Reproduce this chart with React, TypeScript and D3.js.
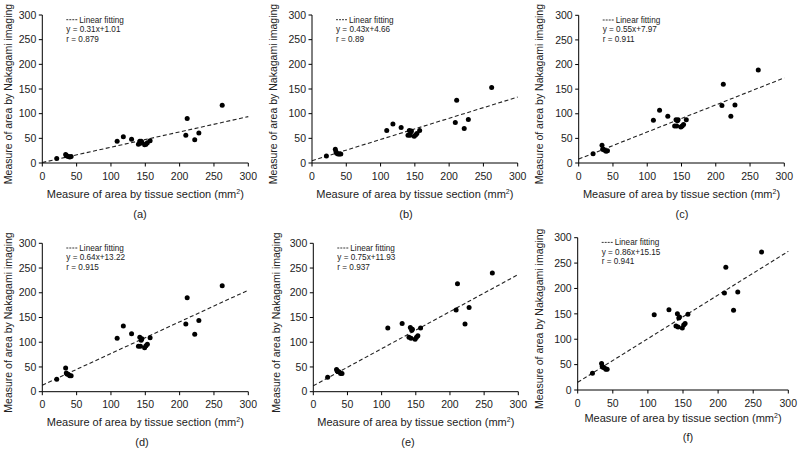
import React from "react";
import * as d3 from "d3";

// Measure of area by tissue section (mm²), shared by all panels
const tissueX = [21, 34, 35, 36, 38, 40, 42, 109, 118, 130, 140, 142, 143, 144, 145, 149, 151, 153, 157, 209, 211, 222, 228, 262];

// Measure of area by Nakagami imaging for each panel (null = not visible)
const yA = [9, 17, 15, 14, 13, 12, 13, 44, 53, 48, 38, 44, 40, 44, 42, 37, 38, 41, 45, 56, 90, 47, 61, 117];
const yB = [14, 28, 23, 20, 18, 18, 18, 66, 79, 72, 56, 66, 56, 63, 65, 54, 57, 60, 66, 82, 127, 70, 88, 153];
const yC = [19, 36, 28, 28, 26, 24, 25, 87, 107, 95, 75, 88, 75, 86, 88, 73, 75, 78, 88, 117, 160, 95, 118, 189];
const yD = [25, 48, 38, 36, 35, 32, 32, 108, 133, 117, 92, 110, 92, 104, 107, 89, 93, 96, 109, 137, 190, 116, 144, 214];
const yE = [29, 45, 42, 41, 40, 37, 37, 129, null, 138, 110, 130, 108, 124, 126, 106, 110, 113, 129, 165, 218, 137, 170, 240];
const yF = [33, 52, 47, 45, 44, 41, 41, 148, null, 158, 126, 150, 124, 142, 144, 122, 128, 131, 149, 191, 242, 157, 193, 272];

const panelLabels = ["(a)", "(b)", "(c)", "(d)", "(e)", "(f)"];
const slopes = [0.31, 0.43, 0.55, 0.64, 0.75, 0.86];
const intercepts = [1.01, 4.66, 7.97, 13.22, 11.93, 15.15];
const equations = ["y = 0.31x+1.01", "y = 0.43x+4.66", "y = 0.55x+7.97", "y = 0.64x+13.22", "y = 0.75x+11.93", "y = 0.86x+15.15"];
const rValues = ["r = 0.879", "r = 0.89", "r = 0.911", "r = 0.915", "r = 0.937", "r = 0.941"];
const ticks = [0, 50, 100, 150, 200, 250, 300];

const seriesY = [yA, yB, yC, yD, yE, yF];

// layout (pixel positions of each panel's plot area)
const layout = [
  { x0: 42.3, x1: 248.3, y0: 163, y1: 15, yTitleX: 11.5, labelX: 140, titleDy: 34.5, labelDy: 55 },
  { x0: 312, x1: 517.7, y0: 163, y1: 15, yTitleX: 276.5, labelX: 406, titleDy: 34.5, labelDy: 55 },
  { x0: 578.7, x1: 784.3, y0: 163, y1: 15.3, yTitleX: 542.5, labelX: 682, titleDy: 34.5, labelDy: 55 },
  { x0: 42.3, x1: 248.3, y0: 391.7, y1: 243.3, yTitleX: 11.5, labelX: 142, titleDy: 34, labelDy: 54 },
  { x0: 313.3, x1: 518.3, y0: 391.7, y1: 243.3, yTitleX: 279.5, labelX: 408, titleDy: 34, labelDy: 54 },
  { x0: 577.7, x1: 788.3, y0: 390, y1: 237.7, yTitleX: 542.5, labelX: 688, titleDy: 32, labelDy: 51 },
];

const FONT = "'Liberation Sans', Arial, sans-serif";

function Panel({ i }: { i: number }) {
  const L = layout[i];
  const x = d3.scaleLinear().domain([0, 300]).range([L.x0, L.x1]);
  const y = d3.scaleLinear().domain([0, 300]).range([L.y0, L.y1]);
  const ys = seriesY[i];
  const fit = d3.line<number>().x((v) => x(v)).y((v) => y(slopes[i] * v + intercepts[i]));
  const yMid = (L.y0 + L.y1) / 2;
  const xMid = (L.x0 + L.x1) / 2;
  const lx = L.x0 + 24;
  const ly = L.y1 + 7.5;
  return (
    <g fontFamily={FONT} fill="#000">
      {/* fit line */}
      <path d={fit([0, 300]) || ""} fill="none" stroke="#222" strokeWidth={1.1} strokeDasharray="4,2.5" />
      {/* axes */}
      <line x1={L.x0} x2={L.x1} y1={L.y0} y2={L.y0} stroke="#000" strokeWidth={1} />
      <line x1={L.x0} x2={L.x0} y1={L.y0} y2={L.y1} stroke="#000" strokeWidth={1} />
      {ticks.map((t) => (
        <g key={"x" + t}>
          <line x1={x(t)} x2={x(t)} y1={L.y0} y2={L.y0 + 3.5} stroke="#000" />
          <text x={x(t)} y={L.y0 + 16.5} textAnchor="middle" fontSize={10.5} fill="#222">{t}</text>
        </g>
      ))}
      {ticks.map((t) => (
        <g key={"y" + t}>
          <line x1={L.x0 - 3.5} x2={L.x0} y1={y(t)} y2={y(t)} stroke="#000" />
          <text x={L.x0 - 6} y={y(t) + 3.7} textAnchor="end" fontSize={10.5} fill="#222">{t}</text>
        </g>
      ))}
      {/* points */}
      {tissueX.map((xv, k) =>
        ys[k] == null ? null : <circle key={k} cx={x(xv)} cy={y(ys[k] as number)} r={2.5} fill="#000" />
      )}
      {/* legend */}
      <line x1={lx} x2={lx + 11} y1={ly - 2.8} y2={ly - 2.8} stroke="#222" strokeWidth={0.9} strokeDasharray="2,1" />
      <text x={lx + 13} y={ly} fontSize={8.2} fill="#222">Linear fitting</text>
      <text x={lx} y={ly + 9.5} fontSize={8.2} fill="#222">{equations[i]}</text>
      <text x={lx} y={ly + 19} fontSize={8.2} fill="#222">{rValues[i]}</text>
      {/* axis titles */}
      <text x={xMid} y={L.y0 + L.titleDy} textAnchor="middle" fontSize={11} fill="#222">
        Measure of area by tissue section (mm<tspan dy={-4} fontSize={7}>2</tspan><tspan dy={4}>)</tspan>
      </text>
      <text transform={`translate(${L.yTitleX},${yMid + 5}) rotate(-90)`} textAnchor="middle" fontSize={10.5} fill="#222">
        Measure of area by Nakagami imaging
      </text>
      <text x={L.labelX} y={L.y0 + L.labelDy} textAnchor="middle" fontSize={11} fill="#222">{panelLabels[i]}</text>
    </g>
  );
}

export default function App() {
  return (
    <svg width={800} height={450} style={{ position: "absolute", left: 0, top: 0, background: "#fff" }}>
      <rect width={800} height={450} fill="#fff" />
      {layout.map((_, i) => (
        <Panel key={i} i={i} />
      ))}
    </svg>
  );
}
